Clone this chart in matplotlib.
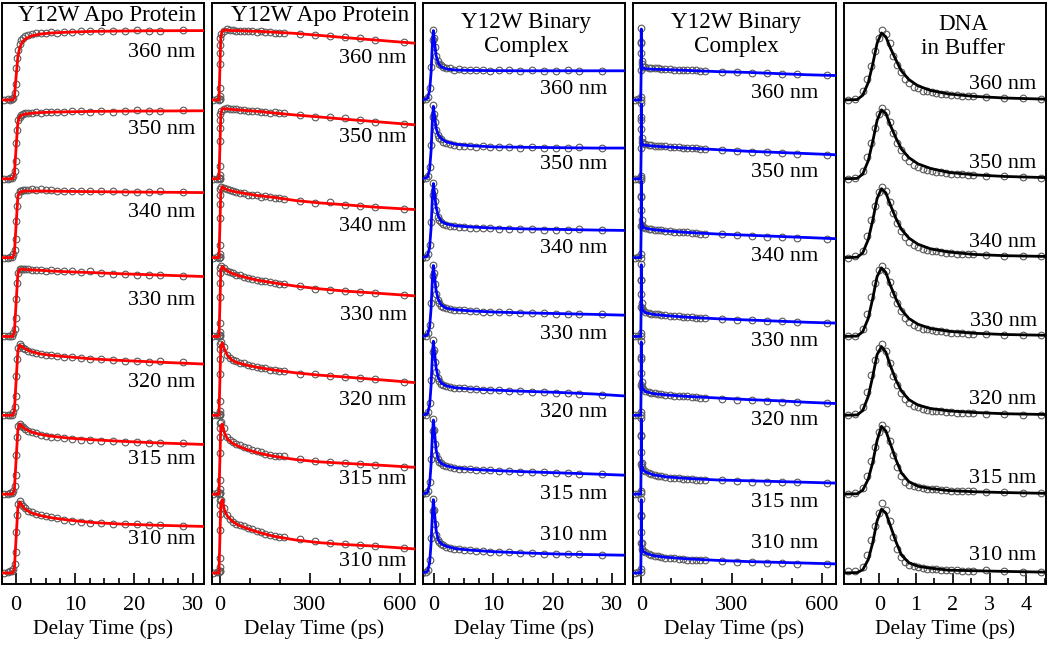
import matplotlib
matplotlib.use('Agg')

import matplotlib.pyplot as plt
from matplotlib.ticker import MultipleLocator
import numpy as np

plt.rcParams['font.family'] = ['Liberation Serif', 'DejaVu Serif']

# traces from bottom to top
wavelengths = ['310 nm', '315 nm', '320 nm', '330 nm', '340 nm', '350 nm', '360 nm']

# ---- delay times (ps) ----
t_short_obs = [-2.0, -1.4, -1.0, -0.7, -0.45, -0.25, -0.1, 0.05, 0.2, 0.4, 0.6, 0.85,
               1.1, 1.5, 2.0, 2.7, 3.4, 4.2, 5.0, 6.0, 7.0, 8.2, 9.5, 11.0, 12.6,
               14.5, 16.5, 18.5, 20.5, 22.5, 24.5, 28.3]
t_long_obs = [-22, -10, -2, -1, -0.6, -0.35, -0.15, 0.1, 0.35, 0.7, 1.5, 4, 13, 24,
              33, 44, 55, 66, 80, 94, 108, 124, 137, 152, 168, 183, 196, 213, 268,
              318, 368, 418, 467, 517, 615]
t_dna_obs = [-0.85, -0.65, -0.45, -0.33, -0.22, -0.12, -0.02, 0.08, 0.18, 0.28, 0.38,
             0.48, 0.58, 0.7, 0.82, 0.94, 1.06, 1.18, 1.3, 1.42, 1.55, 1.68, 1.82,
             1.96, 2.1, 2.25, 2.4, 2.55, 2.9, 3.4, 3.9, 4.4]

t_apo_short_fit = [-2.4, -0.6, -0.3, 0, 0.3, 0.6, 1.0, 1.5, 2.5, 4, 6, 9, 13, 18, 24, 32]
t_apo_long_fit = [-25, -3, 0, 3, 8, 15, 25, 40, 60, 90, 130, 180, 250, 330, 420, 520, 650]
t_bin_short_fit = [-1.9, -1.1, -0.75, -0.5, -0.3, -0.12, 0.1, 0.35, 0.7, 1.2, 2, 3.5,
                   6, 10, 15, 21, 27, 32.2]
t_bin_long_fit = [-27, -2, -0.6, -0.15, 0.4, 1.5, 5, 15, 40, 80, 150, 250, 350, 450,
                  550, 645]
t_dna_fit = [-0.97, -0.6, -0.45, -0.3, -0.18, -0.06, 0.06, 0.18, 0.3, 0.45, 0.6, 0.8,
             1.05, 1.4, 1.9, 2.6, 3.4, 4.53]

# ---- Y12W apo protein, 30 ps window ----
apo_short_fit = [
    [0, 0, 0.05, 0.45, 0.83, 0.90, 0.86, 0.81, 0.765, 0.73, 0.70, 0.67, 0.64, 0.62, 0.605, 0.59],
    [0, 0, 0.05, 0.44, 0.82, 0.89, 0.86, 0.83, 0.79, 0.76, 0.735, 0.71, 0.69, 0.67, 0.65, 0.63],
    [0, 0, 0.05, 0.44, 0.82, 0.89, 0.87, 0.845, 0.81, 0.78, 0.76, 0.74, 0.715, 0.695, 0.675, 0.65],
    [0, 0, 0.05, 0.43, 0.80, 0.85, 0.855, 0.85, 0.845, 0.84, 0.83, 0.82, 0.81, 0.795, 0.78, 0.76],
    [0, 0, 0.05, 0.42, 0.78, 0.83, 0.84, 0.845, 0.845, 0.845, 0.843, 0.84, 0.837, 0.833, 0.83, 0.825],
    [0, 0, 0.05, 0.40, 0.72, 0.79, 0.81, 0.82, 0.83, 0.84, 0.845, 0.85, 0.855, 0.858, 0.86, 0.863],
    [0, 0, 0.03, 0.30, 0.55, 0.66, 0.73, 0.77, 0.81, 0.835, 0.85, 0.86, 0.87, 0.875, 0.878, 0.88],
]
apo_short_obs = [
    [0.0, 0.01, 0.02, 0.02, 0.05, 0.12, 0.26, 0.52, 0.74, 0.88, 0.91, 0.88, 0.85, 0.82, 0.79, 0.77,
     0.75, 0.735, 0.72, 0.71, 0.70, 0.675, 0.665, 0.65, 0.64, 0.63, 0.625, 0.62, 0.615, 0.61, 0.605, 0.60],
    [0.0, 0.0, 0.01, 0.01, 0.04, 0.1, 0.24, 0.5, 0.72, 0.86, 0.89, 0.87, 0.85, 0.83, 0.80, 0.785,
     0.77, 0.75, 0.74, 0.73, 0.72, 0.71, 0.70, 0.69, 0.685, 0.675, 0.67, 0.655, 0.655, 0.65, 0.645, 0.645],
    [0.0, 0.0, 0.01, 0.01, 0.04, 0.1, 0.24, 0.5, 0.72, 0.86, 0.9, 0.88, 0.86, 0.84, 0.82, 0.80,
     0.79, 0.78, 0.77, 0.76, 0.755, 0.745, 0.74, 0.73, 0.72, 0.71, 0.70, 0.695, 0.69, 0.68, 0.685, 0.68],
    [0.0, 0.01, 0.0, 0.01, 0.04, 0.1, 0.23, 0.48, 0.68, 0.81, 0.86, 0.86, 0.855, 0.85, 0.85, 0.845,
     0.84, 0.84, 0.835, 0.84, 0.83, 0.83, 0.825, 0.82, 0.83, 0.80, 0.795, 0.79, 0.785, 0.775, 0.785, 0.77],
    [0.0, 0.0, 0.01, 0.01, 0.04, 0.1, 0.23, 0.47, 0.66, 0.79, 0.84, 0.85, 0.855, 0.86, 0.855, 0.87,
     0.86, 0.865, 0.855, 0.86, 0.85, 0.85, 0.85, 0.845, 0.845, 0.84, 0.845, 0.835, 0.835, 0.83, 0.84, 0.83],
    [0.0, 0.0, 0.01, 0.01, 0.04, 0.1, 0.22, 0.45, 0.62, 0.74, 0.79, 0.81, 0.82, 0.83, 0.835, 0.84,
     0.845, 0.84, 0.85, 0.845, 0.85, 0.845, 0.855, 0.86, 0.85, 0.855, 0.85, 0.86, 0.87, 0.855, 0.855, 0.87],
    [0.0, 0.01, 0.0, 0.01, 0.03, 0.09, 0.2, 0.4, 0.53, 0.64, 0.71, 0.76, 0.79, 0.81, 0.83, 0.84,
     0.845, 0.85, 0.855, 0.86, 0.855, 0.86, 0.865, 0.87, 0.87, 0.875, 0.87, 0.875, 0.885, 0.875, 0.875, 0.885],
]

# ---- Y12W apo protein, 600 ps window ----
apo_long_fit = [
    [0, 0, 0.45, 0.89, 0.93, 0.80, 0.72, 0.66, 0.61, 0.565, 0.515, 0.465, 0.42, 0.385, 0.36, 0.34, 0.305],
    [0, 0, 0.45, 0.86, 0.89, 0.78, 0.70, 0.65, 0.61, 0.565, 0.52, 0.48, 0.44, 0.41, 0.39, 0.37, 0.34],
    [0, 0, 0.45, 0.88, 0.92, 0.84, 0.76, 0.70, 0.665, 0.635, 0.605, 0.575, 0.54, 0.51, 0.485, 0.455, 0.415],
    [0, 0, 0.40, 0.84, 0.89, 0.86, 0.83, 0.80, 0.775, 0.745, 0.71, 0.68, 0.64, 0.605, 0.575, 0.55, 0.515],
    [0, 0, 0.40, 0.85, 0.90, 0.88, 0.86, 0.845, 0.83, 0.81, 0.785, 0.765, 0.725, 0.695, 0.67, 0.64, 0.61],
    [0, 0, 0.40, 0.82, 0.89, 0.89, 0.885, 0.88, 0.875, 0.865, 0.855, 0.835, 0.81, 0.785, 0.755, 0.725, 0.685],
    [0, 0, 0.40, 0.80, 0.88, 0.885, 0.885, 0.88, 0.88, 0.875, 0.87, 0.86, 0.845, 0.82, 0.79, 0.76, 0.72],
]
apo_long_obs = [
    [0, 0.01, 0.01, 0.02, 0.03, 0.07, 0.19, 0.55, 0.75, 0.86, 0.92, 0.93, 0.83, 0.73, 0.68, 0.65, 0.625, 0.61,
     0.59, 0.57, 0.555, 0.53, 0.52, 0.50, 0.48, 0.465, 0.46, 0.455, 0.425, 0.41, 0.385, 0.365, 0.36, 0.345, 0.32],
    [0, 0.01, 0, 0.01, 0.02, 0.06, 0.18, 0.52, 0.72, 0.84, 0.9, 0.92, 0.84, 0.73, 0.69, 0.66, 0.635, 0.62,
     0.595, 0.58, 0.56, 0.545, 0.53, 0.51, 0.50, 0.49, 0.485, 0.48, 0.445, 0.425, 0.405, 0.395, 0.38, 0.375, 0.35],
    [0, 0, 0.01, 0.01, 0.02, 0.06, 0.18, 0.52, 0.72, 0.84, 0.9, 0.93, 0.87, 0.77, 0.73, 0.70, 0.685, 0.665,
     0.66, 0.64, 0.625, 0.615, 0.60, 0.595, 0.58, 0.575, 0.56, 0.565, 0.53, 0.525, 0.50, 0.485, 0.47, 0.465, 0.42],
    [0, 0, 0.01, 0.01, 0.02, 0.06, 0.17, 0.5, 0.68, 0.8, 0.87, 0.9, 0.87, 0.835, 0.82, 0.80, 0.78, 0.775,
     0.76, 0.745, 0.73, 0.72, 0.705, 0.7, 0.685, 0.68, 0.665, 0.67, 0.635, 0.60, 0.59, 0.575, 0.56, 0.55, 0.525],
    [0, 0.01, 0, 0.01, 0.01, 0.05, 0.16, 0.5, 0.68, 0.8, 0.87, 0.9, 0.88, 0.865, 0.855, 0.84, 0.835, 0.825,
     0.815, 0.80, 0.79, 0.79, 0.775, 0.78, 0.765, 0.755, 0.76, 0.745, 0.72, 0.695, 0.70, 0.665, 0.66, 0.64, 0.615],
    [0, 0, 0.01, 0.0, 0.01, 0.05, 0.16, 0.48, 0.64, 0.74, 0.82, 0.86, 0.885, 0.9, 0.89, 0.885, 0.885, 0.875,
     0.87, 0.865, 0.86, 0.865, 0.85, 0.85, 0.84, 0.845, 0.83, 0.835, 0.815, 0.79, 0.78, 0.765, 0.74, 0.725, 0.69],
    [0, 0.01, 0, 0.01, 0.01, 0.05, 0.15, 0.45, 0.6, 0.7, 0.79, 0.84, 0.88, 0.895, 0.885, 0.89, 0.88, 0.875,
     0.875, 0.87, 0.87, 0.865, 0.87, 0.86, 0.86, 0.855, 0.85, 0.855, 0.84, 0.83, 0.81, 0.80, 0.78, 0.765, 0.735],
]

# ---- Y12W binary complex, 30 ps window ----
bin_short_fit = [
    [0, 0.02, 0.13, 0.38, 0.73, 0.93, 0.74, 0.54, 0.42, 0.37, 0.34, 0.31, 0.29, 0.27, 0.255, 0.24, 0.232, 0.225],
    [0, 0.02, 0.13, 0.38, 0.74, 0.94, 0.76, 0.56, 0.44, 0.39, 0.36, 0.335, 0.315, 0.30, 0.285, 0.27, 0.255, 0.24],
    [0, 0.02, 0.13, 0.38, 0.74, 0.94, 0.78, 0.60, 0.48, 0.41, 0.375, 0.35, 0.335, 0.32, 0.305, 0.29, 0.27, 0.245],
    [0, 0.02, 0.12, 0.36, 0.71, 0.90, 0.74, 0.58, 0.47, 0.40, 0.36, 0.34, 0.325, 0.31, 0.30, 0.29, 0.28, 0.27],
    [0, 0.02, 0.13, 0.38, 0.74, 0.94, 0.80, 0.64, 0.53, 0.46, 0.43, 0.405, 0.39, 0.375, 0.365, 0.358, 0.35, 0.345],
    [0, 0.02, 0.12, 0.36, 0.72, 0.92, 0.78, 0.64, 0.56, 0.51, 0.47, 0.44, 0.42, 0.405, 0.40, 0.395, 0.39, 0.39],
    [0, 0.02, 0.12, 0.35, 0.70, 0.88, 0.72, 0.56, 0.47, 0.42, 0.395, 0.38, 0.375, 0.372, 0.37, 0.37, 0.37, 0.37],
]
bin_short_obs = [
    [0.0, 0.01, 0.04, 0.16, 0.44, 0.79, 0.94, 0.80, 0.62, 0.48, 0.42, 0.39, 0.37, 0.35, 0.335, 0.32,
     0.31, 0.30, 0.29, 0.285, 0.28, 0.275, 0.27, 0.265, 0.26, 0.255, 0.25, 0.245, 0.24, 0.24, 0.235, 0.23],
    [0.0, 0.01, 0.04, 0.16, 0.45, 0.80, 0.95, 0.81, 0.64, 0.50, 0.44, 0.41, 0.39, 0.37, 0.355, 0.345,
     0.335, 0.325, 0.32, 0.315, 0.31, 0.305, 0.30, 0.295, 0.29, 0.285, 0.28, 0.275, 0.27, 0.265, 0.26, 0.255],
    [0.0, 0.01, 0.04, 0.16, 0.45, 0.80, 0.95, 0.83, 0.68, 0.55, 0.47, 0.43, 0.40, 0.385, 0.37, 0.36,
     0.35, 0.345, 0.34, 0.335, 0.33, 0.325, 0.32, 0.315, 0.31, 0.305, 0.30, 0.295, 0.285, 0.28, 0.275, 0.26],
    [0.0, 0.01, 0.04, 0.15, 0.43, 0.77, 0.91, 0.80, 0.66, 0.54, 0.46, 0.42, 0.39, 0.37, 0.355, 0.345,
     0.34, 0.335, 0.33, 0.325, 0.32, 0.315, 0.31, 0.31, 0.305, 0.30, 0.30, 0.295, 0.29, 0.285, 0.29, 0.28],
    [0.0, 0.01, 0.04, 0.16, 0.45, 0.80, 0.95, 0.84, 0.72, 0.60, 0.52, 0.48, 0.45, 0.43, 0.415, 0.40,
     0.395, 0.39, 0.385, 0.38, 0.375, 0.37, 0.37, 0.365, 0.36, 0.365, 0.36, 0.355, 0.355, 0.35, 0.36, 0.345],
    [0.0, 0.01, 0.04, 0.15, 0.43, 0.78, 0.93, 0.82, 0.72, 0.62, 0.56, 0.52, 0.50, 0.47, 0.45, 0.44,
     0.425, 0.42, 0.415, 0.41, 0.405, 0.41, 0.40, 0.405, 0.40, 0.395, 0.40, 0.39, 0.395, 0.39, 0.40, 0.39],
    [0.0, 0.01, 0.04, 0.15, 0.42, 0.76, 0.89, 0.78, 0.67, 0.56, 0.50, 0.46, 0.44, 0.42, 0.41, 0.40,
     0.385, 0.39, 0.38, 0.375, 0.38, 0.375, 0.37, 0.375, 0.38, 0.37, 0.375, 0.37, 0.37, 0.375, 0.37, 0.37],
]

# ---- Y12W binary complex, 600 ps window ----
bin_long_fit = [
    [0, 0, 0.36, 0.93, 0.52, 0.33, 0.28, 0.25, 0.22, 0.20, 0.18, 0.16, 0.145, 0.135, 0.125, 0.115],
    [0, 0, 0.36, 0.95, 0.55, 0.36, 0.31, 0.28, 0.245, 0.22, 0.20, 0.18, 0.17, 0.16, 0.15, 0.14],
    [0, 0, 0.36, 0.93, 0.52, 0.38, 0.33, 0.30, 0.275, 0.26, 0.24, 0.22, 0.20, 0.185, 0.165, 0.15],
    [0, 0, 0.35, 0.91, 0.52, 0.38, 0.33, 0.30, 0.28, 0.265, 0.245, 0.225, 0.21, 0.195, 0.18, 0.17],
    [0, 0, 0.37, 0.97, 0.58, 0.44, 0.39, 0.37, 0.355, 0.34, 0.32, 0.30, 0.285, 0.27, 0.255, 0.24],
    [0, 0, 0.36, 0.95, 0.58, 0.46, 0.435, 0.425, 0.415, 0.405, 0.39, 0.37, 0.35, 0.335, 0.32, 0.305],
    [0, 0, 0.35, 0.90, 0.55, 0.43, 0.405, 0.395, 0.39, 0.385, 0.375, 0.36, 0.35, 0.335, 0.32, 0.31],
]
bin_long_obs = [
    [0, 0.01, 0.01, 0.05, 0.38, 0.74, 0.94, 0.72, 0.52, 0.38, 0.31, 0.28, 0.26, 0.24, 0.225, 0.215, 0.21, 0.2,
     0.195, 0.19, 0.185, 0.18, 0.175, 0.17, 0.17, 0.165, 0.16, 0.16, 0.15, 0.14, 0.135, 0.13, 0.125, 0.12, 0.115],
    [0, 0, 0.01, 0.04, 0.38, 0.75, 0.96, 0.74, 0.54, 0.4, 0.34, 0.31, 0.29, 0.265, 0.25, 0.24, 0.23, 0.225,
     0.215, 0.21, 0.205, 0.2, 0.195, 0.195, 0.19, 0.185, 0.18, 0.18, 0.175, 0.17, 0.16, 0.16, 0.155, 0.15, 0.14],
    [0, 0.01, 0, 0.04, 0.38, 0.74, 0.94, 0.72, 0.54, 0.42, 0.36, 0.33, 0.31, 0.295, 0.285, 0.28, 0.27, 0.265,
     0.26, 0.255, 0.25, 0.245, 0.24, 0.24, 0.235, 0.23, 0.225, 0.225, 0.21, 0.20, 0.19, 0.18, 0.17, 0.165, 0.155],
    [0, 0, 0.01, 0.04, 0.37, 0.72, 0.92, 0.72, 0.54, 0.42, 0.36, 0.33, 0.31, 0.30, 0.29, 0.285, 0.28, 0.275,
     0.27, 0.265, 0.26, 0.255, 0.25, 0.245, 0.245, 0.24, 0.235, 0.235, 0.225, 0.21, 0.205, 0.195, 0.19, 0.185, 0.175],
    [0, 0.01, 0, 0.04, 0.4, 0.77, 0.98, 0.78, 0.6, 0.48, 0.42, 0.39, 0.375, 0.365, 0.36, 0.355, 0.35, 0.345,
     0.34, 0.335, 0.33, 0.325, 0.32, 0.32, 0.315, 0.31, 0.305, 0.305, 0.295, 0.285, 0.275, 0.265, 0.26, 0.25, 0.24],
    [0, 0, 0.01, 0.04, 0.39, 0.75, 0.96, 0.78, 0.63, 0.52, 0.47, 0.45, 0.44, 0.43, 0.425, 0.42, 0.415, 0.41,
     0.41, 0.405, 0.40, 0.40, 0.395, 0.39, 0.385, 0.385, 0.38, 0.38, 0.365, 0.355, 0.345, 0.335, 0.325, 0.32, 0.305],
    [0, 0.01, 0.0, 0.04, 0.38, 0.72, 0.91, 0.74, 0.6, 0.5, 0.45, 0.42, 0.415, 0.41, 0.405, 0.40, 0.40, 0.395,
     0.39, 0.39, 0.385, 0.385, 0.38, 0.38, 0.375, 0.375, 0.37, 0.37, 0.36, 0.355, 0.345, 0.34, 0.33, 0.325, 0.315],
]

# ---- DNA in buffer, 4.5 ps window ----
dna_fit = [
    [0, 0.005, 0.04, 0.17, 0.38, 0.66, 0.81, 0.76, 0.60, 0.40, 0.23, 0.13, 0.085, 0.06, 0.035, 0.028, 0.02, 0.01],
    [0, 0.005, 0.05, 0.19, 0.40, 0.68, 0.86, 0.80, 0.64, 0.44, 0.27, 0.16, 0.10, 0.07, 0.045, 0.03, 0.02, 0.01],
    [0, 0.005, 0.06, 0.24, 0.49, 0.77, 0.87, 0.80, 0.63, 0.45, 0.31, 0.20, 0.13, 0.085, 0.055, 0.035, 0.02, 0.01],
    [0, 0.005, 0.06, 0.23, 0.48, 0.76, 0.87, 0.81, 0.65, 0.48, 0.34, 0.23, 0.155, 0.10, 0.065, 0.04, 0.025, 0.015],
    [0, 0.005, 0.06, 0.23, 0.47, 0.75, 0.875, 0.82, 0.67, 0.50, 0.36, 0.25, 0.17, 0.11, 0.07, 0.04, 0.025, 0.015],
    [0, 0.005, 0.06, 0.23, 0.47, 0.74, 0.875, 0.83, 0.68, 0.52, 0.38, 0.27, 0.19, 0.13, 0.08, 0.05, 0.03, 0.015],
    [0, 0.005, 0.06, 0.22, 0.45, 0.72, 0.85, 0.80, 0.66, 0.51, 0.37, 0.26, 0.18, 0.12, 0.075, 0.045, 0.025, 0.01],
]
dna_obs = [
    [0.02, 0.03, 0.08, 0.23, 0.42, 0.6, 0.76, 0.89, 0.8, 0.66, 0.46, 0.3, 0.2, 0.14, 0.1, 0.085,
     0.07, 0.06, 0.055, 0.05, 0.045, 0.04, 0.04, 0.035, 0.035, 0.03, 0.03, 0.025, 0.035, 0.02, 0.015, 0.015],
    [0.0, 0.01, 0.08, 0.23, 0.42, 0.6, 0.79, 0.88, 0.82, 0.68, 0.5, 0.34, 0.23, 0.16, 0.12, 0.1,
     0.085, 0.075, 0.07, 0.065, 0.06, 0.055, 0.05, 0.045, 0.045, 0.04, 0.04, 0.035, 0.03, 0.025, 0.02, 0.01],
    [0.01, 0.02, 0.1, 0.3, 0.51, 0.7, 0.85, 0.9, 0.82, 0.66, 0.5, 0.38, 0.28, 0.21, 0.16, 0.12,
     0.1, 0.085, 0.07, 0.06, 0.055, 0.05, 0.045, 0.04, 0.035, 0.03, 0.03, 0.025, 0.02, 0.015, 0.01, 0.01],
    [0.0, 0.01, 0.1, 0.29, 0.5, 0.68, 0.84, 0.9, 0.83, 0.69, 0.54, 0.42, 0.32, 0.24, 0.18, 0.15,
     0.12, 0.1, 0.09, 0.08, 0.07, 0.065, 0.055, 0.05, 0.045, 0.04, 0.035, 0.03, 0.03, 0.02, 0.02, 0.015],
    [0.0, 0.02, 0.09, 0.28, 0.48, 0.66, 0.83, 0.9, 0.84, 0.71, 0.56, 0.44, 0.34, 0.26, 0.2, 0.16,
     0.13, 0.11, 0.1, 0.085, 0.08, 0.07, 0.06, 0.055, 0.05, 0.045, 0.04, 0.04, 0.03, 0.025, 0.02, 0.015],
    [0.0, 0.01, 0.1, 0.28, 0.46, 0.65, 0.82, 0.9, 0.85, 0.72, 0.58, 0.46, 0.36, 0.28, 0.22, 0.18,
     0.15, 0.13, 0.11, 0.1, 0.09, 0.08, 0.07, 0.065, 0.06, 0.055, 0.05, 0.045, 0.04, 0.03, 0.025, 0.01],
    [0.0, 0.01, 0.12, 0.27, 0.43, 0.62, 0.78, 0.89, 0.84, 0.72, 0.56, 0.44, 0.35, 0.27, 0.21, 0.17,
     0.15, 0.12, 0.11, 0.1, 0.09, 0.075, 0.07, 0.06, 0.06, 0.055, 0.05, 0.045, 0.04, 0.025, 0.02, 0.01],
]

titles = ['Y12W Apo Protein', 'Y12W Apo Protein', 'Y12W Binary\nComplex',
          'Y12W Binary\nComplex', 'DNA\nin Buffer']

# label heights above each trace baseline (bottom to top)
label_offsets = [
    [0.43, 0.44, 0.41, 0.45, 0.57, 0.62, 0.60],
    [0.15, 0.19, 0.19, 0.27, 0.40, 0.52, 0.53],
    [0.47, 0.0, 0.03, 0.03, 0.11, 0.18, 0.13],
    [0.37, -0.11, -0.06, -0.06, 0.02, 0.08, 0.08],
    [0.22, 0.20, 0.20, 0.19, 0.19, 0.195, 0.19],
]

panels = [
    dict(t_fit=t_apo_short_fit, fit=apo_short_fit, t_obs=t_short_obs, obs=apo_short_obs,
         color='#ff0000', xlim=(-2.4, 32), major=10, minor=2.5,
         label_x=0.955, title_x=0.52, title_y=0.978),
    dict(t_fit=t_apo_long_fit, fit=apo_long_fit, t_obs=t_long_obs, obs=apo_long_obs,
         color='#ff0000', xlim=(-25, 650), major=300, minor=100,
         label_x=0.96, title_x=0.53, title_y=0.978),
    dict(t_fit=t_bin_short_fit, fit=bin_short_fit, t_obs=t_short_obs, obs=bin_short_obs,
         color='#0000ff', xlim=(-1.9, 32.2), major=10, minor=2.5,
         label_x=0.909, title_x=0.51, title_y=0.946),
    dict(t_fit=t_bin_long_fit, fit=bin_long_fit, t_obs=t_long_obs, obs=bin_long_obs,
         color='#0000ff', xlim=(-27, 645), major=300, minor=100,
         label_x=0.912, title_x=0.51, title_y=0.946),
    dict(t_fit=t_dna_fit, fit=dna_fit, t_obs=t_dna_obs, obs=dna_obs,
         color='black', xlim=(-0.97, 4.53), major=1, minor=0.5,
         label_x=0.954, title_x=0.59, title_y=0.942),
]

W, H = 1050, 647
fig = plt.figure(figsize=(W / 100, H / 100), dpi=100)

lefts = [2, 212.4, 422.8, 633.2, 843.6]
pw = 202.4
top_px, bot_px = 3, 584

for k, p in enumerate(panels):
    ax = fig.add_axes([lefts[k] / W, 1 - bot_px / H, pw / W, (bot_px - top_px) / H])
    for i in range(len(wavelengths)):
        ax.plot(p['t_obs'], np.array(p['obs'][i]) + i, 'o', ms=4.8, mfc='none',
                mec='#5a5a5a', mew=0.8, zorder=2)
        ax.plot(p['t_fit'], np.array(p['fit'][i]) + i, '-', color=p['color'],
                lw=2.0, zorder=3)
        ax.text(p['label_x'], i + label_offsets[k][i], wavelengths[i],
                transform=ax.get_yaxis_transform(), ha='right', va='center',
                fontsize=16)

    ax.text(p['title_x'], p['title_y'], titles[k], transform=ax.transAxes,
            ha='center', va='center', fontsize=16.7, linespacing=1.2)

    ax.set_xlim(*p['xlim'])
    ax.set_ylim(-0.14, 7.23)
    ax.set_yticks([])
    ax.xaxis.set_major_locator(MultipleLocator(p['major']))
    ax.xaxis.set_minor_locator(MultipleLocator(p['minor']))
    ax.tick_params(axis='x', which='both', direction='in', top=False,
                   labelsize=16, pad=9)
    ax.tick_params(axis='x', which='major', length=8, width=1.2)
    ax.tick_params(axis='x', which='minor', length=4.5, width=1.2)
    for s in ax.spines.values():
        s.set_linewidth(1.4)
    ax.set_xlabel('Delay Time (ps)', fontsize=15.5, labelpad=3)

fig.savefig('out.png', dpi=100)
